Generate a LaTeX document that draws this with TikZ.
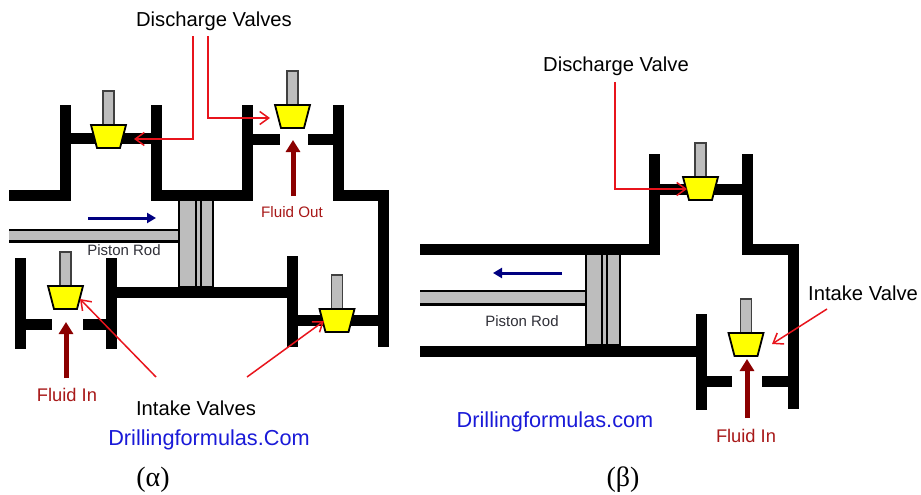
\documentclass[tikz,border=0pt]{standalone}
\usepackage{fontspec}
\setmainfont{Liberation Sans}
\newfontfamily\captionfont{Liberation Serif}
\usepackage{xcolor}
\usepackage{tikz}
\usetikzlibrary{arrows.meta,positioning}
\definecolor{leaderred}{HTML}{E8141C}
\definecolor{fluidred}{HTML}{8B0000}
\definecolor{fluidtext}{HTML}{A81818}
\definecolor{strokeblue}{HTML}{000080}
\definecolor{sitename}{HTML}{1A1AD8}
\definecolor{valvefill}{HTML}{FFFF00}
\definecolor{rodfill}{HTML}{BDBDBD}
\definecolor{rodtext}{HTML}{303038}

\begin{document}
\begin{tikzpicture}[
  x=1pt, y=-1pt,
  wall/.style={draw=black, line width=11pt},
  leader/.style={draw=leaderred, line width=1.5pt, -{Straight Barb[length=9pt,width=13pt,line width=1.5pt]}},
  fluid/.style={draw=fluidred, line width=5pt, -{Triangle[length=12pt,width=14pt]}},
  stroke/.style={draw=strokeblue, line width=3pt, -{Triangle[length=9pt,width=10pt]}},
  rodpart/.style={fill=rodfill, draw=black, line width=2.2pt},
  label/.style={text=black, inner sep=0pt, font=\fontsize{20.2}{24}\selectfont},
  fluidlabel/.style={text=fluidtext, inner sep=0pt},
  rodlabel/.style={text=rodtext, inner sep=0pt, font=\fontsize{15}{18}\selectfont},
  sitelabel/.style={text=sitename, inner sep=0pt, font=\fontsize{21.7}{26}\selectfont},
  caption/.style={text=black, inner sep=0pt, font=\captionfont\fontsize{28}{32}\selectfont},
  valve/.pic={
    \draw[fill=rodfill, draw=black!75, line width=1.3pt] (-5.5,0) rectangle (5.5,-34);
    \draw[fill=valvefill, draw=black, line width=1.8pt, line join=miter] (-17.5,0) -- (17.5,0) -- (11.5,23) -- (-11.5,23) -- cycle;
  },
]
  \useasboundingbox[fill=white] (0,0) rectangle (921,495);

  % left pump
  \fill[rodfill] (9,231) rectangle (179,241);
  \draw[black, line width=2.6pt] (9,230) -- (179,230) (9,241.5) -- (179,241.5);
  \draw[rodpart] (179,197) rectangle (196,287);
  \draw[rodpart] (196,197) rectangle (201,287);
  \draw[rodpart] (201,197) rectangle (213,287);
  \draw[wall] (9,195.5) -- (65.5,195.5) -- (65.5,105);
  \draw[wall] (156.5,105) -- (156.5,195.5) -- (247.5,195.5) -- (247.5,105);
  \draw[wall] (338.5,105) -- (338.5,195.5) -- (383.5,195.5) -- (383.5,347);
  \draw[wall] (65.5,138.5) -- (156.5,138.5);
  \draw[wall] (253,139) -- (280,139);
  \draw[wall] (308,139) -- (333,139);
  \draw[wall] (20.5,258) -- (20.5,349);
  \draw[wall] (111.5,258) -- (111.5,349);
  \draw[wall] (26,324.5) -- (52,324.5);
  \draw[wall] (83,324.5) -- (106,324.5);
  \draw[wall] (111.5,292) -- (292.5,292);
  \draw[wall] (292.5,256) -- (292.5,347);
  \draw[wall] (292.5,320.5) -- (383.5,320.5);
  \pic at (108.5,125) {valve};
  \pic at (292.5,105) {valve};
  \pic at (65.5,286) {valve};
  \pic at (337,309) {valve};

  \node[label] (dischargeleft) at (214,21) {Discharge Valves};
  \node[label] (intakeleft) at (196,408) {Intake Valves};
  \node[fluidlabel, font=\fontsize{15.2}{18}\selectfont] (fluidout) at (292,212) {Fluid Out};
  \node[fluidlabel, font=\fontsize{18.3}{22}\selectfont] (fluidinleft) at (67,395) {Fluid In};
  \node[rodlabel] (rodleft) at (124,250.5) {Piston Rod};
  \node[sitelabel] (siteleft) at (209,440) {Drillingformulas.Com};
  \node[caption] (captionleft) at (153,480) {(α)};

  \coordinate (dischargeA) at (193,36.5);
  \coordinate (dischargeB) at (208,36.5);
  \coordinate (intakeA) at (156,377);
  \coordinate (intakeB) at (247,377);
  \coordinate (valveA) at (134,139);
  \coordinate (valveB) at (270,118);
  \coordinate (valveC) at (80,299);
  \coordinate (valveD) at (324,321);
  \coordinate (fluidoutfoot) at (293,196);
  \coordinate (fluidouttip) at (293,140);
  \coordinate (fluidinAfoot) at (66,378);
  \coordinate (fluidinAtip) at (66,322);
  \draw[leader] (dischargeA) |- (valveA);
  \draw[leader] (dischargeB) |- (valveB);
  \draw[leader] (intakeA) -- (valveC);
  \draw[leader] (intakeB) -- (valveD);
  \draw[fluid] (fluidoutfoot) -- (fluidouttip);
  \draw[fluid] (fluidinAfoot) -- (fluidinAtip);
  \draw[stroke] (88,218) -- (156,218);

  % right pump
  \fill[rodfill] (420,292) rectangle (586,303);
  \draw[black, line width=2.6pt] (420,291) -- (586,291) (420,304.5) -- (586,304.5);
  \draw[rodpart] (586,251) rectangle (602,345);
  \draw[rodpart] (602,251) rectangle (607,345);
  \draw[rodpart] (607,251) rectangle (620,345);
  \draw[wall] (420,249) -- (654.5,249) -- (654.5,154);
  \draw[wall] (747.5,154) -- (747.5,249) -- (793.5,249) -- (793.5,409);
  \draw[wall] (654.5,189.5) -- (747.5,189.5);
  \draw[wall] (420,351) -- (701,351);
  \draw[wall] (701,314) -- (701,410);
  \draw[wall] (707,381.5) -- (732,381.5);
  \draw[wall] (762,381.5) -- (788,381.5);
  \pic at (700.5,177) {valve};
  \pic at (746,333) {valve};

  \node[label] (dischargeright) at (616,66) {Discharge Valve};
  \node[label] (intakeright) at (863,293) {Intake Valve};
  \node[fluidlabel, font=\fontsize{18.3}{22}\selectfont] (fluidinright) at (746,436) {Fluid In};
  \node[rodlabel] (rodright) at (522,321) {Piston Rod};
  \node[sitelabel] (siteright) at (555,422) {Drillingformulas.com};
  \node[caption] (captionright) at (623,480) {(β)};

  \coordinate (dischargeC) at (615,82);
  \coordinate (intakeC) at (827,309);
  \coordinate (valveE) at (687,189);
  \coordinate (valveF) at (772,344);
  \coordinate (fluidinBfoot) at (747,418);
  \coordinate (fluidinBtip) at (747,359);
  \draw[leader] (dischargeC) |- (valveE);
  \draw[leader] (intakeC) -- (valveF);
  \draw[fluid] (fluidinBfoot) -- (fluidinBtip);
  \draw[stroke] (562,273) -- (493,273);
\end{tikzpicture}
\end{document}
